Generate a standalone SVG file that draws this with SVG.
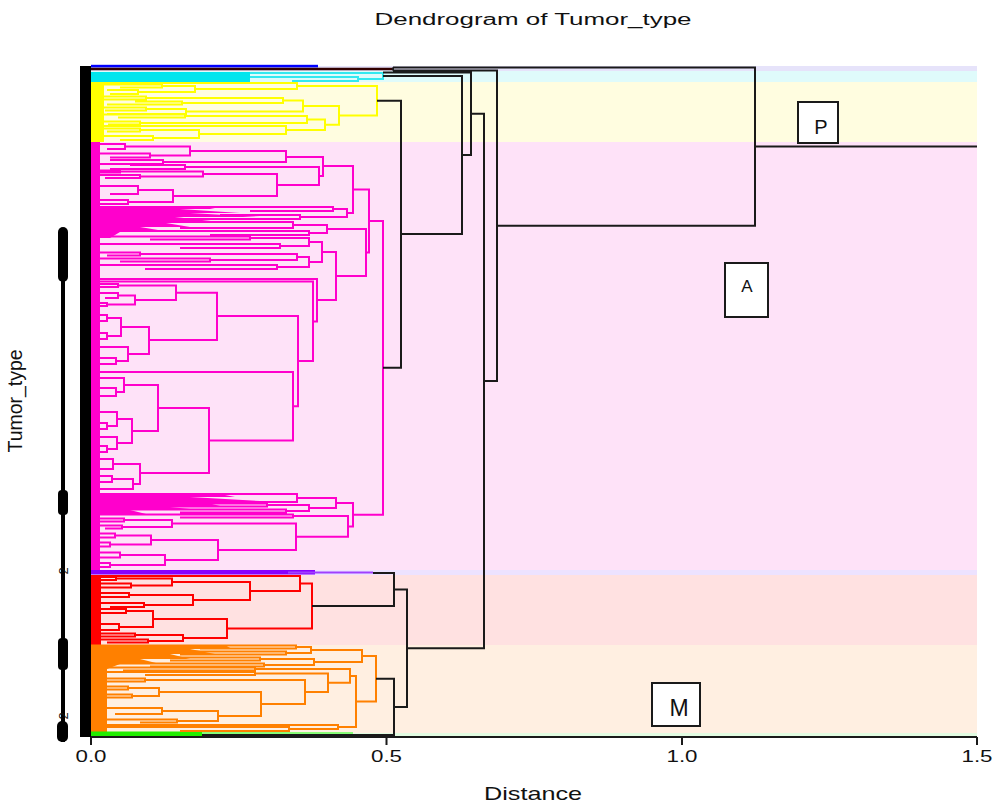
<svg xmlns="http://www.w3.org/2000/svg" width="995" height="805" viewBox="0 0 995 805">
<style>
.t{font-family:"Liberation Sans",Arial,sans-serif;fill:#111}
.ln{fill:none;stroke-width:2;stroke-linejoin:miter;stroke-linecap:butt}
.pk{stroke:#FF00CC}
.yl{stroke:#FFFF00}
.rd{stroke:#FF0000}
.or{stroke:#FF8000}
.cy{stroke:#33E8F0}
.bk{stroke:#1a1a1a}
.box{fill:#fff;stroke:#1a1a1a;stroke-width:2}
</style>
<rect width="995" height="805" fill="#fff"/>
<g id="bands">
<rect x="91" y="66" width="886" height="5" fill="#E6E3FA"/>
<rect x="91" y="71" width="886" height="11" fill="#DFFBFB"/>
<rect x="91" y="82" width="886" height="60" fill="#FFFDE0"/>
<rect x="91" y="142" width="886" height="428" fill="#FEE2F8"/>
<rect x="91" y="570" width="886" height="5" fill="#EDE2FF"/>
<rect x="91" y="575" width="886" height="70" fill="#FFE1E1"/>
<rect x="91" y="645" width="886" height="88" fill="#FFEFE1"/>
<rect x="91" y="733" width="886" height="4" fill="#E2FCE2"/>
</g>
<g id="axes">
<rect x="80" y="66" width="11" height="671" fill="#000"/>
<path d="M91 737 H977 M91 737 V745 M386.5 737 V745 M682 737 V745 M977 737 V745" stroke="#1a1a1a" stroke-width="2" fill="none"/>
<text class="t" x="91" y="762" font-size="16" text-anchor="middle" textLength="31" lengthAdjust="spacingAndGlyphs">0.0</text>
<text class="t" x="386.5" y="762" font-size="16" text-anchor="middle" textLength="31" lengthAdjust="spacingAndGlyphs">0.5</text>
<text class="t" x="682" y="762" font-size="16" text-anchor="middle" textLength="31" lengthAdjust="spacingAndGlyphs">1.0</text>
<text class="t" x="977" y="762" font-size="16" text-anchor="middle" textLength="31" lengthAdjust="spacingAndGlyphs">1.5</text>
<text class="t" x="533" y="800" font-size="19" text-anchor="middle" textLength="98" lengthAdjust="spacingAndGlyphs">Distance</text>
<text class="t" x="533" y="25" font-size="16" text-anchor="middle" textLength="317" lengthAdjust="spacingAndGlyphs">Dendrogram of Tumor_type</text>
<text class="t" transform="translate(21.5,401) rotate(-90)" font-size="20" text-anchor="middle" textLength="103" lengthAdjust="spacingAndGlyphs">Tumor_type</text>
<g id="leaf-labels" fill="#000">
<rect x="61" y="230" width="4" height="512"/>
<rect x="58" y="227" width="10" height="55" rx="5"/>
<rect x="58" y="490" width="10" height="25" rx="4"/>
<rect x="58" y="638" width="10" height="32" rx="4"/>
<rect x="57" y="721" width="11" height="21" rx="5"/>
<text class="t" transform="translate(68,571) rotate(-90)" font-size="13" text-anchor="middle">2</text>
<text class="t" transform="translate(68,716) rotate(-90)" font-size="13" text-anchor="middle">2</text>
</g>
</g>
<g id="connectors">
<g id="dense">
<rect x="91" y="64.8" width="227" height="2.6" fill="#0000FF"/>
<rect x="91" y="72" width="159" height="10" fill="#00E5EE"/>
<rect x="91" y="82" width="13" height="60" fill="#FFFF00"/>
<rect x="91" y="142" width="9" height="428" fill="#FF00CC"/>
<path d="M91 206 H200 L215 209 H180 L240 213 H190 L260 217 H175 L220 222 H160 L190 227 H140 L170 232 H120 L110 238 H91 Z" fill="#FF00CC"/>
<path d="M91 493 H215 L235 497 H190 L260 501 H200 L220 506 H160 L200 510 H130 L150 515 H91 Z" fill="#FF00CC"/>
<rect x="91" y="570" width="224" height="4.5" fill="#8800FF"/>
<rect x="91" y="575" width="10" height="70" fill="#FF0000"/>
<path d="M91 645 H225 L232 649 H190 L215 654 H170 L190 659 H140 L160 664 H120 L107 669 V733 H91 Z" fill="#FF8000"/>
<rect x="91" y="731.5" width="111" height="4.5" fill="#22EE00"/>
</g>
<g id="cyan" class="ln cy">
<path d="M250 73 H383 V79 H358 M250 77 H358 V81 H292"/>
</g>
<g id="top-lines">
<path d="M91 69 H393" fill="none" stroke="#330000" stroke-width="2.5"/>
<path d="M288 572.5 H373" fill="none" stroke="#A040FF" stroke-width="2"/>
<path d="M202 733 H353" fill="none" stroke="#66FF55" stroke-width="1.5"/>
</g>
<g id="yellow" class="ln yl">
<path d="M297 86 H377 V115.4 H339 M91 83 H297 V89 H195 M162 86 H195 V92 H138 M91 84.5 H162 V87.5 H120 M107 90 H138 V94 H110 M303 106 H339 V124.75 H325 M283 100.5 H303 V111.5 H186 M146 98 H283 V103 H182 M91 96.5 H146 V99.5 H100 M135 101.5 H182 V104.5 H107 M146 109 H186 V114 H107 M91 107.5 H146 V110.5 H105 M307 119.5 H325 V130 H286 M185 116 H307 V123 H140 M91 114.5 H185 V117.5 H118 M91 121.5 H140 V124.5 H108 M91 126 H286 V134 H199 M140 130 H199 V138 H153 M91 128.5 H140 V131.5 H107 M91 136 H153 V140 H120"/>
</g>
<g id="pink" class="ln pk">
<path d="M369 221 H383 V514.7 H353 M353 189.5 H369 V252.5 H366 M323 166 H353 V213 H347 M286 157 H323 V176 H319 M190 151 H286 V162 H163 M125 146.5 H190 V155.5 H150 M91 144 H125 V149 H107 M91 153.5 H150 V157.5 H110 M110 160 H163 V164 H91 M185 167 H319 V185 H277 M130 165 H185 V169 H110 M203 174 H277 V196 H173 M120 171.5 H203 V176.5 H140 M91 170.5 H120 V172.5 H100 M91 175 H140 V178 H105 M138 190 H173 V202 H128 M91 186 H138 V194 H110 M91 200 H128 V204 H100"/>
<path d="M333 209 H347 V217 H300 M91 207 H333 V211 H250 M220 215 H300 V219 H160 M293 225 H327 V233 H309 M91 222 H293 V228 H180 M91 231 H309 V235 H210 M327 229 H366 V276 H336 M322 252 H336 V300 H317 M309 242 H322 V262 H309 M250 238 H309 V246 H280 M91 236.5 H250 V239.5 H150 M91 244 H280 V248 H180 M297 257 H309 V267 H277 M140 254 H297 V260 H210 M91 252.5 H140 V255.5 H107 M91 258.5 H210 V261.5 H120 M91 265 H277 V269 H145"/>
<path d="M91 279 H317 V321.5 H313 M91 281.5 H313 V361 H298 M217 316 H298 V406.25 H293 M176 292.75 H217 V340 H149 M118 285.5 H176 V300 H135 M91 284 H118 V287 H100 M118 295.5 H135 V304.5 H107 M91 293 H118 V298 H105 M91 303 H107 V306 H95 M121 327 H149 V354 H128 M107 318 H121 V336 H107 M91 315 H107 V321 H91 M91 333 H107 V339 H91 M91 347 H128 V361 H116 M91 358 H116 V364 H91"/>
<path d="M91 372 H293 V440.5 H209 M158 408 H209 V473 H140 M124 385 H158 V431 H132 M91 378 H124 V392 H116 M91 388 H116 V396 H91 M117 419 H132 V443 H117 M91 412 H117 V426 H107 M91 423 H107 V429 H91 M91 437 H117 V449 H107 M91 446 H107 V452 H91 M113 464 H140 V484 H133 M91 459 H113 V469 H91 M112 479 H133 V489 H91 M91 476 H112 V482 H91"/>
<path d="M336 503 H353 V526.4 H348 M297 498 H336 V508 H309 M91 494 H297 V502 H200 M267 505 H309 V511 H286 M91 503.5 H267 V506.5 H150 M91 509.5 H286 V512.5 H180 M293 516 H348 V536.75 H296 M91 514.5 H293 V517.5 H180 M172 523.5 H296 V550 H218 M124 520 H172 V527 H122 M91 518.5 H124 V521.5 H100 M91 525.5 H122 V528.5 H105 M151 540 H218 V560 H165 M115 535.5 H151 V544.5 H110 M91 533.5 H115 V537.5 H91 M91 542.5 H110 V546.5 H91 M120 555 H165 V565 H110 M91 552.5 H120 V557.5 H91 M91 563 H110 V567 H91"/>
</g>
<g id="red" class="ln rd">
<path d="M300 583.5 H312 V628.5 H227 M91 576 H300 V591 H250 M172 582 H250 V600 H193 M116 578.5 H172 V585.5 H131 M91 577 H116 V580 H91 M91 583.5 H131 V587.5 H100 M129 595 H193 V605 H144 M91 593 H129 V597 H100 M91 603 H144 V607 H110 M153 619 H227 V638 H183 M126 611 H153 V627 H119 M91 609 H126 V613 H100 M91 624 H119 V630 H100 M135 635 H183 V641 H148 M91 633.5 H135 V636.5 H100 M91 639.5 H148 V642.5 H107"/>
</g>
<g id="orange" class="ln or">
<path d="M362 656 H376 V701.5 H356 M311 650 H362 V662 H314 M296 647 H311 V653 H286 M91 645.5 H296 V648.5 H200 M91 651.5 H286 V654.5 H180 M260 659 H314 V665 H264 M91 657.5 H260 V660.5 H170 M91 663.5 H264 V666.5 H150 M350 675.9 H356 V727 H338 M255 669 H350 V682.75 H328 M91 667.5 H255 V670.5 H123 M255 673.5 H328 V692 H305 M91 672 H255 V675 H145 M145 680 H305 V704 H261 M91 678.5 H145 V681.5 H107 M159 692 H261 V716 H218 M128 688 H159 V696 H132 M91 686.5 H128 V689.5 H100 M91 694.5 H132 V697.5 H100 M162 711 H218 V721 H177 M91 708 H162 V714 H115 M91 719.5 H177 V722.5 H140 M91 725 H338 V729 H289 M91 727 H289 V731 H180"/>
</g>
<g id="black" class="ln bk">
<path d="M393 67.5 V70.5 M393 67.5 H755 V225.75 H497 M755 146.6 H977 M393 70.5 H497 V381 H484 M383 72.5 H471 V155 H462 M471 113.75 H484 V648.2 H407 M383 76 H462 V234 H401 M377 100.7 H401 V367.8 H383 M373 573 H394 V606 H312 M394 589.5 H407 V706.9 H394 M376 678.75 H394 V735 H202"/>
</g>
</g>
<g id="node-P">
<rect class="box" x="798" y="102" width="40" height="41"/>
<text class="t" x="821" y="134" font-size="20" text-anchor="middle">P</text>
</g>
<g id="node-A">
<rect class="box" x="725" y="263" width="43" height="54"/>
<text class="t" x="747" y="292" font-size="17" text-anchor="middle">A</text>
</g>
<g id="node-M">
<rect class="box" x="652" y="683" width="48" height="43"/>
<text class="t" x="679" y="716" font-size="23" text-anchor="middle">M</text>
</g>
</svg>
